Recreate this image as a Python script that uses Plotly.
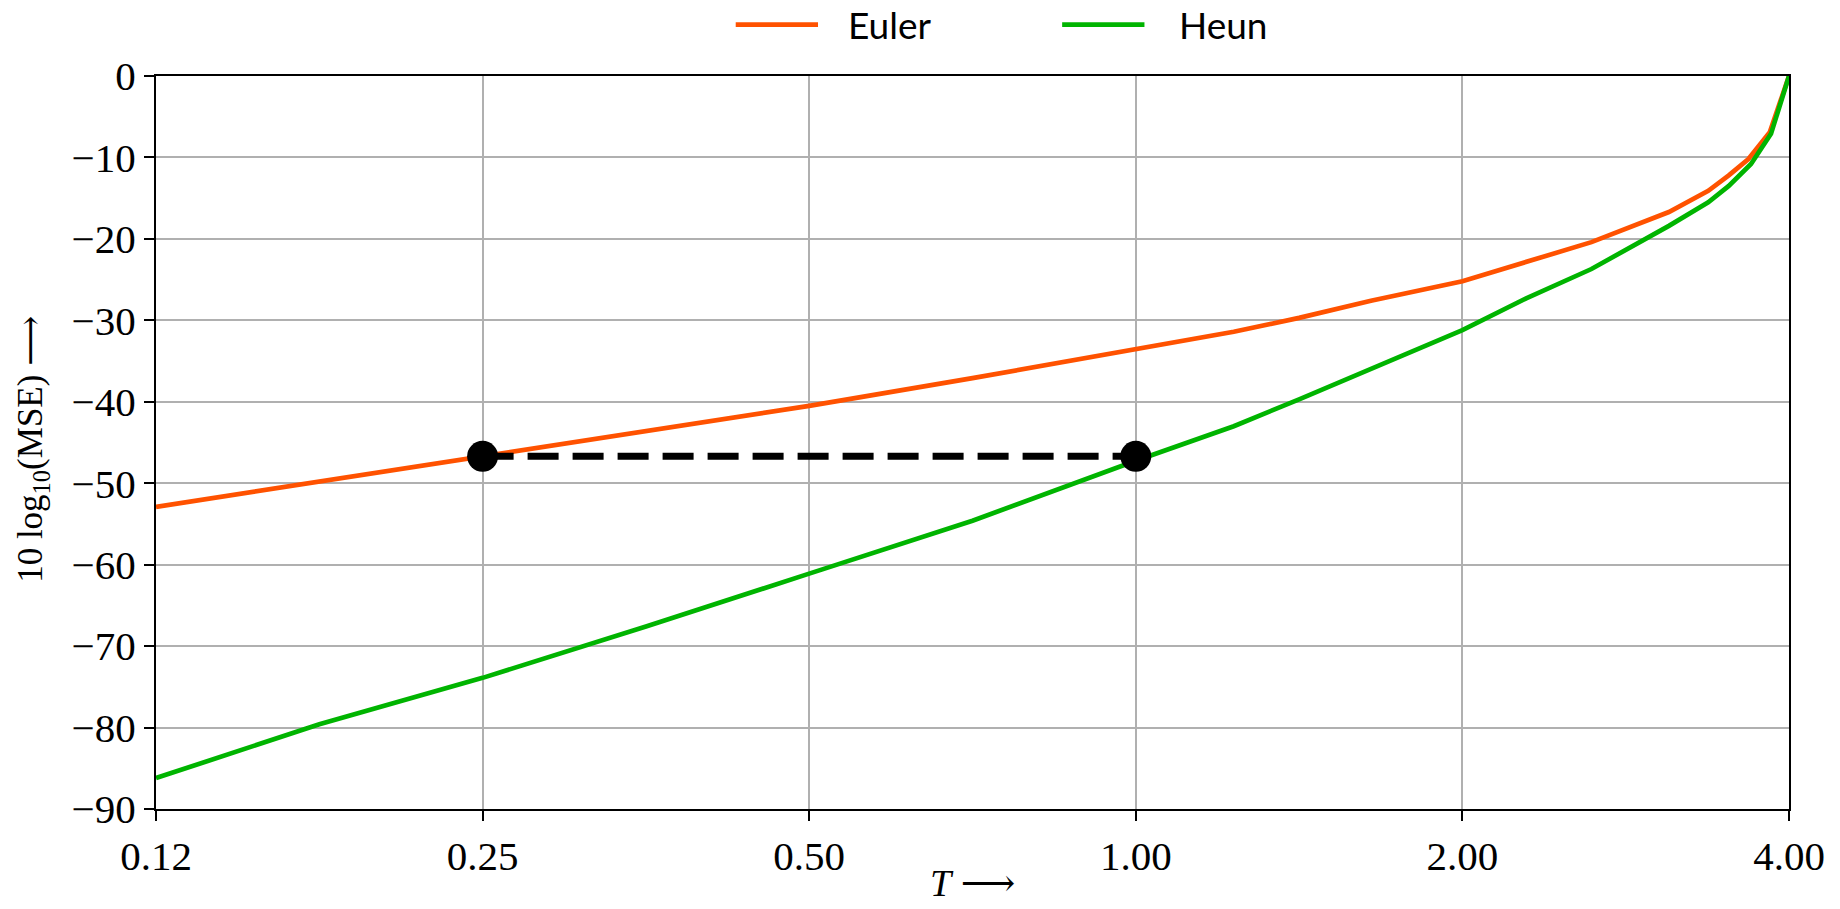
import plotly.graph_objects as go

# ---- data ----
t_euler = [0.125, 0.1768, 0.25, 0.3536, 0.5, 0.7071, 1.0, 1.2311, 1.4142, 1.6472,
           2.0, 2.23, 2.63, 3.10, 3.37, 3.52, 3.67, 3.84, 4.0]
mse_euler = [-52.9, -49.8, -46.8, -43.7, -40.5, -37.1, -33.55, -31.4, -29.7, -27.6,
             -25.2, -23.3, -20.4, -16.7, -14.1, -12.2, -10.2, -6.9, 0.0]

t_heun = [0.125, 0.1768, 0.25, 0.3536, 0.5, 0.7071, 1.0, 1.2311, 1.4142, 1.6472,
          2.0, 2.29, 2.63, 3.10, 3.37, 3.52, 3.69, 3.85, 4.0]
mse_heun = [-86.2, -79.6, -73.9, -67.6, -61.1, -54.6, -47.25, -43.0, -39.7, -35.9,
            -31.2, -27.3, -23.7, -18.4, -15.5, -13.5, -10.8, -7.1, 0.0]

ref_t = [0.25, 1.0]
ref_mse = [-46.7, -46.7]

series_names = ["Euler", "Heun"]
x_title = "<i>T</i> \u27f6"
y_title = "10 log<sub>10</sub>(MSE) \u27f6"
x_tickvals = [0.125, 0.25, 0.5, 1.0, 2.0, 4.0]
x_ticktext = ["0.12", "0.25", "0.50", "1.00", "2.00", "4.00"]
y_tickvals = [0, -10, -20, -30, -40, -50, -60, -70, -80, -90]
y_ticktext = ["0" if v == 0 else "\u2212" + str(-v) for v in y_tickvals]

ORANGE = "#ff5200"
GREEN = "#00b400"
colors = [ORANGE, GREEN]

fig = go.Figure()
fig.add_trace(go.Scatter(x=t_euler, y=mse_euler, mode="lines", name=series_names[0],
                         showlegend=False, line=dict(color=ORANGE, width=4.7)))
fig.add_trace(go.Scatter(x=t_heun, y=mse_heun, mode="lines", name=series_names[1],
                         showlegend=False, line=dict(color=GREEN, width=4.7)))
fig.add_trace(go.Scatter(x=ref_t, y=ref_mse, mode="lines", showlegend=False,
                         line=dict(color="black", width=7, dash="31px,14px")))
fig.add_trace(go.Scatter(x=ref_t, y=ref_mse, mode="markers", showlegend=False,
                         marker=dict(color="black", size=31)))

serif = "Liberation Serif, DejaVu Serif, serif"
sans = "Lato, DejaVu Sans, sans-serif"

# legend drawn above the plot (line sample + label), in paper coordinates
legend_line_x = [(0.355, 0.4054), (0.5549, 0.6053)]
legend_text_x = [0.4225, 0.6255]
legend_y = 1.07
for name, col, (x0, x1), tx in zip(series_names, colors, legend_line_x, legend_text_x):
    fig.add_shape(type="line", xref="paper", yref="paper", x0=x0, x1=x1,
                  y0=legend_y, y1=legend_y, line=dict(color=col, width=4.7))
    fig.add_annotation(xref="paper", yref="paper", x=tx, y=legend_y, text=name,
                       showarrow=False, xanchor="left", yanchor="middle",
                       font=dict(family=sans, size=37, color="black"))

# axis titles
fig.add_annotation(xref="paper", yref="paper", x=0.5, y=-0.1325, text=x_title,
                   showarrow=False, xanchor="center", yanchor="bottom",
                   font=dict(family=serif, size=38, color="black"))
fig.add_annotation(xref="paper", yref="paper", x=-0.0753, y=0.49, text=y_title,
                   showarrow=False, xanchor="center", yanchor="middle", textangle=-90,
                   font=dict(family=serif, size=35, color="black"))

fig.update_layout(
    width=1840, height=909,
    margin=dict(l=156, r=51, t=76, b=100),
    paper_bgcolor="white", plot_bgcolor="white",
    font=dict(family=serif, size=41, color="black"),
    showlegend=False,
    xaxis=dict(type="log", range=[-0.90309, 0.60206],
               tickvals=x_tickvals, ticktext=x_ticktext,
               showgrid=True, gridcolor="#b0b0b0", gridwidth=1.8,
               showline=True, linecolor="black", linewidth=2.2, mirror=True,
               ticks="outside", ticklen=10, tickwidth=2, tickcolor="black",
               tickfont=dict(family=serif, size=41), automargin=False,
               zeroline=False),
    yaxis=dict(range=[-90, 0], tickvals=y_tickvals, ticktext=y_ticktext,
               showgrid=True, gridcolor="#b0b0b0", gridwidth=1.8,
               showline=True, linecolor="black", linewidth=2.2, mirror=True,
               ticks="outside", ticklen=10, tickwidth=2, tickcolor="black",
               tickfont=dict(family=serif, size=41), automargin=False,
               zeroline=False),
)

fig.write_html("out.html", config={"displayModeBar": False})

# remove the browser's default page margin so the figure fills the window exactly
with open("out.html", "r", encoding="utf-8") as f:
    html = f.read()
html = html.replace("<body>", '<body style="margin:0;padding:0;">', 1)
with open("out.html", "w", encoding="utf-8") as f:
    f.write(html)
